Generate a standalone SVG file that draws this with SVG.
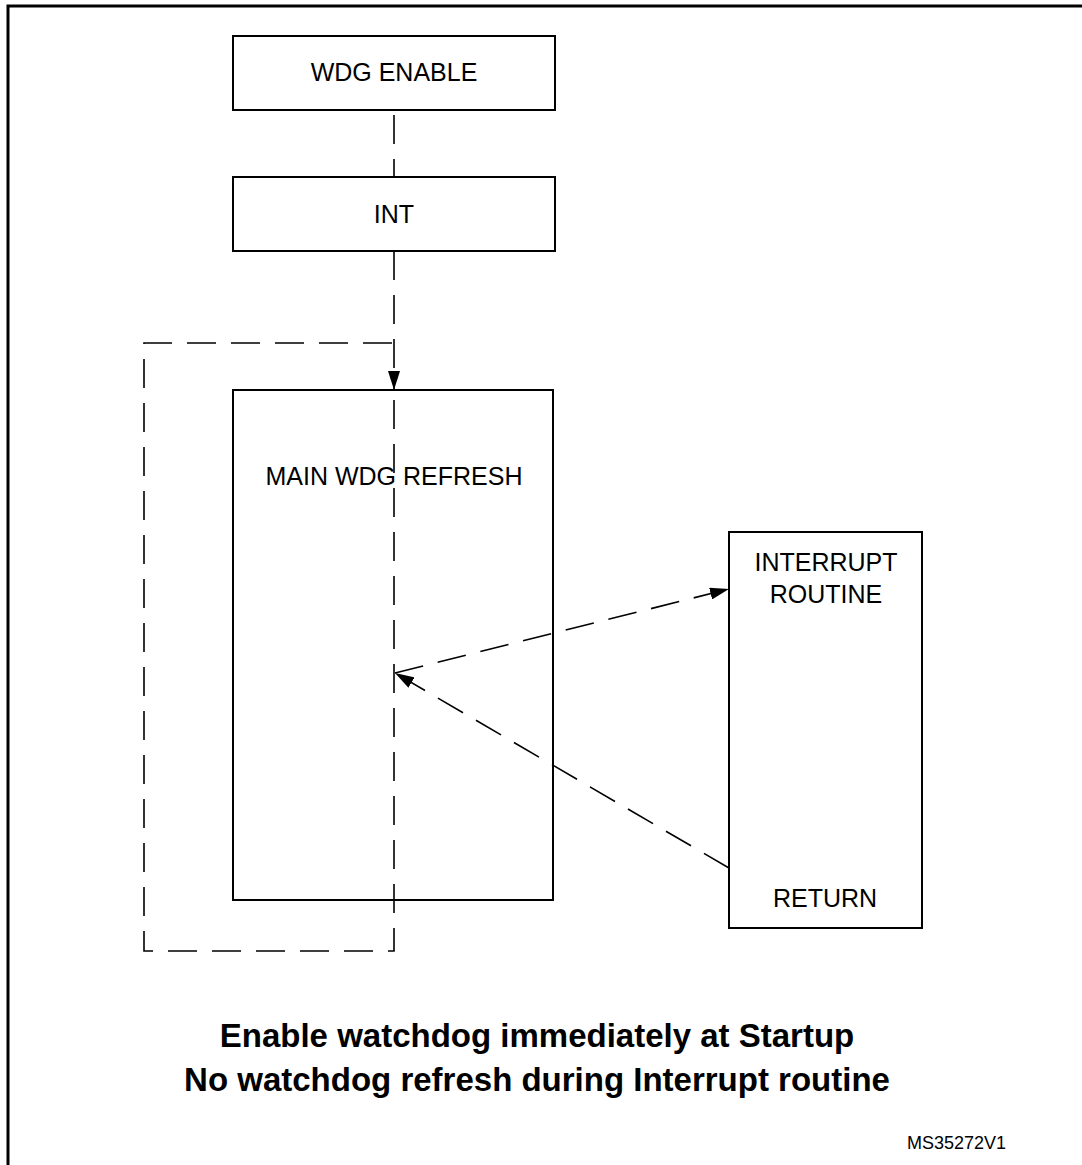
<svg xmlns="http://www.w3.org/2000/svg" width="1082" height="1165" viewBox="0 0 1082 1165">
  <style>
    .box { fill: #fff; stroke: #000; stroke-width: 2; }
    .lbl { font-family: "Liberation Sans", Arial, sans-serif; font-size: 25px; fill: #000; text-anchor: middle; }
    .note { font-family: "Liberation Sans", Arial, sans-serif; font-size: 33px; font-weight: bold; fill: #000; text-anchor: middle; }
    .ref { font-family: "Liberation Sans", Arial, sans-serif; font-size: 18px; fill: #000; }
    .dash { fill: none; stroke: #000; stroke-width: 1.6; stroke-dasharray: 29 15; }
  </style>
  <defs>
    <marker id="arrow" viewBox="0 0 19 12" refX="19" refY="6" markerWidth="19" markerHeight="12" markerUnits="userSpaceOnUse" orient="auto">
      <path d="M0,0 L19,6 L0,12 Z" fill="#000"/>
    </marker>
  </defs>

  <rect width="1082" height="1165" fill="#fff"/>
  <!-- outer frame (open to the right and bottom) -->
  <path d="M1082,6 H8 V1165" fill="none" stroke="#000" stroke-width="3"/>

  <g id="wdg-enable">
    <rect class="box" x="233" y="36" width="322" height="74"/>
    <text class="lbl" x="394" y="81">WDG ENABLE</text>
  </g>
  <g id="int">
    <rect class="box" x="233" y="177" width="322" height="74"/>
    <text class="lbl" x="394" y="223">INT</text>
  </g>
  <g id="main-wdg-refresh">
    <rect class="box" x="233" y="390" width="320" height="510"/>
    <text class="lbl" x="394" y="485">MAIN WDG REFRESH</text>
  </g>
  <g id="interrupt-routine">
    <rect class="box" x="729" y="532" width="193" height="396"/>
    <text class="lbl" x="826" y="571">INTERRUPT</text>
    <text class="lbl" x="826" y="603">ROUTINE</text>
    <text class="lbl" x="825" y="907">RETURN</text>
  </g>

  <g id="connectors">
    <path class="dash" d="M394,115 V177"/>
    <path class="dash" d="M394,251 V390" marker-end="url(#arrow)"/>
    <!-- main loop -->
    <path class="dash" d="M394,400 V951 H144 V343 H394"/>
    <path class="dash" d="M395,673 L729,589" marker-end="url(#arrow)"/>
    <path class="dash" d="M729,868 L395,673" marker-end="url(#arrow)"/>
  </g>

  <g id="notes">
    <text class="note" x="537" y="1047">Enable watchdog immediately at Startup</text>
    <text class="note" x="537" y="1091">No watchdog refresh during Interrupt routine</text>
    <text class="ref" x="907" y="1149">MS35272V1</text>
  </g>
</svg>
